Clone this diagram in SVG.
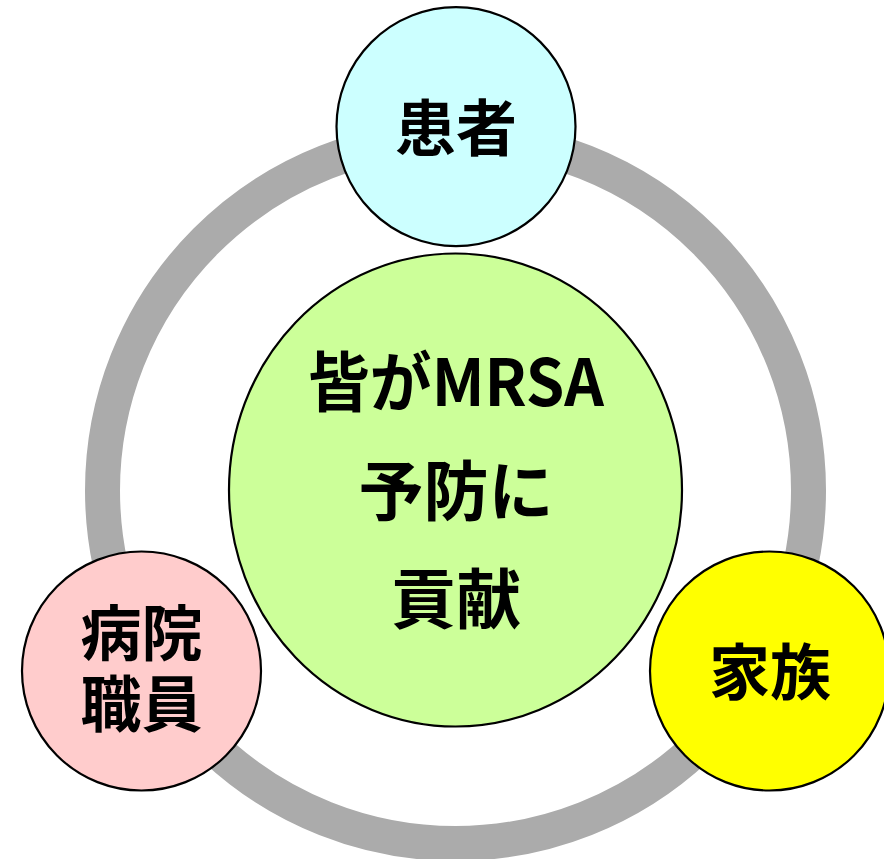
<svg xmlns="http://www.w3.org/2000/svg" width="884" height="859" viewBox="0 0 884 859">
<style>
.node{stroke:#000;stroke-width:2.2}
.lbl{font-family:"Noto Sans CJK JP","Noto Sans CJK SC",sans-serif;font-weight:bold;fill:#000;text-anchor:middle;dominant-baseline:central}
.tight{font-family:"Liberation Sans","Noto Sans CJK JP",sans-serif}
.ring{fill:none;stroke:#ababab;stroke-width:35}
</style>
<rect width="884" height="859" fill="#fff"/>
<g id="connectors">
<circle class="ring" cx="455.5" cy="490.5" r="353"/>
</g>
<g id="center">
<ellipse class="node" cx="455.5" cy="490" rx="226.5" ry="236.5" fill="#ccff99"/>
<text class="lbl" x="456" y="378" font-size="65" textLength="296" lengthAdjust="spacingAndGlyphs">皆がMRSA</text>
<text class="lbl" x="456" y="487" font-size="65">予防に</text>
<text class="lbl" x="456" y="594.5" font-size="65">貢献</text>
</g>
<g id="patient">
<circle class="node" cx="456" cy="126.6" r="119.5" fill="#ccffff"/>
<text class="lbl" x="456" y="124" font-size="61">患者</text>
</g>
<g id="staff">
<circle class="node" cx="141.5" cy="671" r="119.5" fill="#ffcccc"/>
<text class="lbl tight" x="141.5" y="635" font-size="61">病院</text>
<text class="lbl tight" x="141.5" y="706" font-size="61">職員</text>
</g>
<g id="family">
<circle class="node" cx="769.5" cy="671" r="119.5" fill="#ffff00"/>
<text class="lbl" x="770" y="668" font-size="61">家族</text>
</g>
</svg>
